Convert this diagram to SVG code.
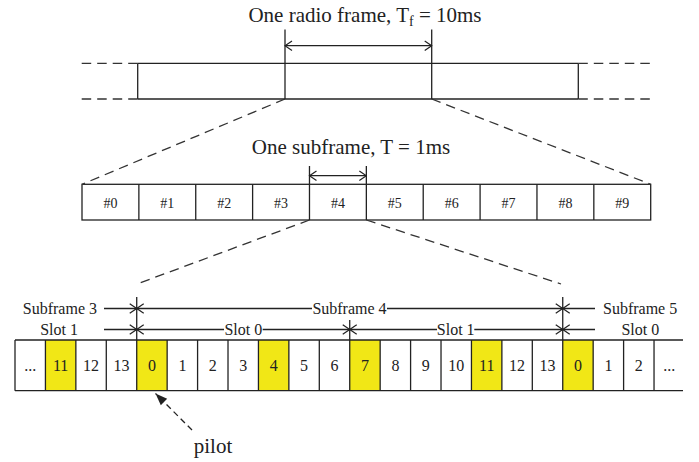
<svg xmlns="http://www.w3.org/2000/svg" width="699" height="462" viewBox="0 0 699 462">
  <defs>
    <style>
      .ln { stroke: #222; stroke-width: 1.3; fill: none; }
      .dash { stroke: #333; stroke-width: 1.3; fill: none; stroke-dasharray: 9.5 6; }
      .cell { stroke: #222; stroke-width: 1.3; fill: #fff; }
      .pilot { fill: #f1e716; stroke: none; }
      text { font-family: "Liberation Serif", "Times New Roman", serif; fill: #222; }
      .title { font-size: 21px; text-anchor: middle; }
      .sub { font-size: 14px; text-anchor: middle; }
      .num { font-size: 16px; text-anchor: middle; }
      .lbl { font-size: 16px; }
    </style>
    <marker id="open" viewBox="-8 -6 9 12" refX="0" refY="0" markerWidth="9" markerHeight="12" markerUnits="userSpaceOnUse" orient="auto-start-reverse">
      <path d="M-7,-4.8 L0,0 L-7,4.8" fill="none" stroke="#222" stroke-width="1.2"/>
    </marker>
    <marker id="solid" viewBox="-13 -6 14 12" refX="0" refY="0" markerWidth="14" markerHeight="12" markerUnits="userSpaceOnUse" orient="auto">
      <path d="M-12,-4.5 L0,0 L-12,4.5 Z" fill="#222"/>
    </marker>
  </defs>

  <!-- radio frame row -->
  <g id="radio-frame">
    <text class="title" x="365" y="22">One radio frame, T<tspan font-size="14" dy="4">f</tspan><tspan dy="-4"> = 10ms</tspan></text>
    <line class="ln" x1="137.7" y1="63.3" x2="578.3" y2="63.3"/>
    <line class="ln" x1="137.7" y1="99" x2="578.3" y2="99"/>
    <line class="ln" x1="137.7" y1="63.3" x2="137.7" y2="99"/>
    <line class="ln" x1="578.3" y1="63.3" x2="578.3" y2="99"/>
    <line class="ln" x1="285" y1="29.5" x2="285" y2="99"/>
    <line class="ln" x1="431.7" y1="29.5" x2="431.7" y2="99"/>
    <line class="dash" x1="137.7" y1="63.3" x2="80" y2="63.3"/>
    <line class="dash" x1="137.7" y1="99" x2="80" y2="99"/>
    <line class="dash" x1="578.3" y1="63.3" x2="651" y2="63.3"/>
    <line class="dash" x1="578.3" y1="99" x2="651" y2="99"/>
  </g>

  <!-- subframe row -->
  <g id="subframes">
    <text class="title" x="351" y="154">One subframe, T = 1ms</text>
    <rect class="cell" x="82" y="184.3" width="568.7" height="35.7"/>
    <g class="ln">
      <line x1="138.87" y1="184.3" x2="138.87" y2="220"/>
      <line x1="195.74" y1="184.3" x2="195.74" y2="220"/>
      <line x1="252.61" y1="184.3" x2="252.61" y2="220"/>
      <line x1="309.48" y1="166" x2="309.48" y2="220"/>
      <line x1="366.35" y1="166" x2="366.35" y2="220"/>
      <line x1="423.22" y1="184.3" x2="423.22" y2="220"/>
      <line x1="480.09" y1="184.3" x2="480.09" y2="220"/>
      <line x1="536.96" y1="184.3" x2="536.96" y2="220"/>
      <line x1="593.83" y1="184.3" x2="593.83" y2="220"/>
    </g>
    <text class="sub" x="110.4" y="207.5">#0</text>
    <text class="sub" x="167.3" y="207.5">#1</text>
    <text class="sub" x="224.2" y="207.5">#2</text>
    <text class="sub" x="281" y="207.5">#3</text>
    <text class="sub" x="337.9" y="207.5">#4</text>
    <text class="sub" x="394.8" y="207.5">#5</text>
    <text class="sub" x="451.7" y="207.5">#6</text>
    <text class="sub" x="508.5" y="207.5">#7</text>
    <text class="sub" x="565.4" y="207.5">#8</text>
    <text class="sub" x="622.3" y="207.5">#9</text>
  </g>

  <!-- slot / OFDM symbol row -->
  <g id="symbols">
    <rect class="pilot" x="45.43" y="340" width="30.43" height="50.7"/>
    <rect class="pilot" x="136.72" y="340" width="30.43" height="50.7"/>
    <rect class="pilot" x="258.44" y="340" width="30.43" height="50.7"/>
    <rect class="pilot" x="349.73" y="340" width="30.43" height="50.7"/>
    <rect class="pilot" x="471.45" y="340" width="30.43" height="50.7"/>
    <rect class="pilot" x="562.74" y="340" width="30.43" height="50.7"/>
    <g class="ln">
      <line x1="15" y1="340" x2="683" y2="340"/>
      <line x1="15" y1="390.7" x2="683" y2="390.7"/>
      <line x1="15" y1="340" x2="15" y2="390.7"/>
      <line x1="45.43" y1="340" x2="45.43" y2="390.7"/>
      <line x1="75.86" y1="340" x2="75.86" y2="390.7"/>
      <line x1="106.29" y1="340" x2="106.29" y2="390.7"/>
      <line x1="136.72" y1="297" x2="136.72" y2="390.7"/>
      <line x1="167.15" y1="340" x2="167.15" y2="390.7"/>
      <line x1="197.58" y1="340" x2="197.58" y2="390.7"/>
      <line x1="228.01" y1="340" x2="228.01" y2="390.7"/>
      <line x1="258.44" y1="340" x2="258.44" y2="390.7"/>
      <line x1="288.87" y1="340" x2="288.87" y2="390.7"/>
      <line x1="319.3" y1="340" x2="319.3" y2="390.7"/>
      <line x1="349.73" y1="320" x2="349.73" y2="390.7"/>
      <line x1="380.16" y1="340" x2="380.16" y2="390.7"/>
      <line x1="410.59" y1="340" x2="410.59" y2="390.7"/>
      <line x1="441.02" y1="340" x2="441.02" y2="390.7"/>
      <line x1="471.45" y1="340" x2="471.45" y2="390.7"/>
      <line x1="501.88" y1="340" x2="501.88" y2="390.7"/>
      <line x1="532.31" y1="340" x2="532.31" y2="390.7"/>
      <line x1="562.74" y1="297" x2="562.74" y2="390.7"/>
      <line x1="593.17" y1="340" x2="593.17" y2="390.7"/>
      <line x1="623.6" y1="340" x2="623.6" y2="390.7"/>
      <line x1="654.03" y1="340" x2="654.03" y2="390.7"/>
    </g>
    <text class="num" x="30.2" y="371">...</text>
    <text class="num" x="60.6" y="371">11</text>
    <text class="num" x="91.1" y="371">12</text>
    <text class="num" x="121.5" y="371">13</text>
    <text class="num" x="151.9" y="371">0</text>
    <text class="num" x="182.4" y="371">1</text>
    <text class="num" x="212.8" y="371">2</text>
    <text class="num" x="243.2" y="371">3</text>
    <text class="num" x="273.7" y="371">4</text>
    <text class="num" x="304.1" y="371">5</text>
    <text class="num" x="334.5" y="371">6</text>
    <text class="num" x="364.9" y="371">7</text>
    <text class="num" x="395.4" y="371">8</text>
    <text class="num" x="425.8" y="371">9</text>
    <text class="num" x="456.2" y="371">10</text>
    <text class="num" x="486.7" y="371">11</text>
    <text class="num" x="517.1" y="371">12</text>
    <text class="num" x="547.5" y="371">13</text>
    <text class="num" x="578" y="371">0</text>
    <text class="num" x="608.4" y="371">1</text>
    <text class="num" x="638.8" y="371">2</text>
    <text class="num" x="669.2" y="371">...</text>
  </g>

  <!-- subframe and slot labels -->
  <g id="boundary-labels">
    <text class="lbl" x="97" y="314" text-anchor="end">Subframe 3</text>
    <text class="lbl" x="349.5" y="314" text-anchor="middle">Subframe 4</text>
    <text class="lbl" x="603" y="314">Subframe 5</text>
    <text class="lbl" x="78" y="335" text-anchor="end">Slot 1</text>
    <text class="lbl" x="243.3" y="335" text-anchor="middle">Slot 0</text>
    <text class="lbl" x="455.7" y="335" text-anchor="middle">Slot 1</text>
    <text class="lbl" x="640.3" y="335" text-anchor="middle">Slot 0</text>
  </g>

  <g id="pilot-label">
    <text x="213" y="453" font-size="21" text-anchor="middle">pilot</text>
  </g>

  <!-- connectors -->
  <g id="connectors">
    <line class="ln" x1="285" y1="45.7" x2="431.7" y2="45.7" marker-start="url(#open)" marker-end="url(#open)"/>
    <line class="ln" x1="309.48" y1="175.7" x2="366.35" y2="175.7" marker-start="url(#open)" marker-end="url(#open)"/>
    <line class="dash" x1="285" y1="99" x2="82" y2="184.3"/>
    <line class="dash" x1="431.7" y1="99" x2="650.7" y2="184.3"/>
    <line class="dash" x1="309.48" y1="220" x2="137" y2="284"/>
    <line class="dash" x1="366.35" y1="220" x2="561" y2="284"/>

    <line class="ln" x1="104" y1="308.5" x2="136.72" y2="308.5" marker-end="url(#open)"/>
    <line class="ln" x1="136.72" y1="308.5" x2="312" y2="308.5" marker-start="url(#open)"/>
    <line class="ln" x1="387" y1="308.5" x2="562.74" y2="308.5" marker-end="url(#open)"/>
    <line class="ln" x1="562.74" y1="308.5" x2="595" y2="308.5" marker-start="url(#open)"/>

    <line class="ln" x1="104" y1="329.5" x2="136.72" y2="329.5" marker-end="url(#open)"/>
    <line class="ln" x1="136.72" y1="329.5" x2="224" y2="329.5" marker-start="url(#open)"/>
    <line class="ln" x1="262.7" y1="329.5" x2="349.73" y2="329.5" marker-end="url(#open)"/>
    <line class="ln" x1="349.73" y1="329.5" x2="437" y2="329.5" marker-start="url(#open)"/>
    <line class="ln" x1="474.3" y1="329.5" x2="562.74" y2="329.5" marker-end="url(#open)"/>
    <line class="ln" x1="562.74" y1="329.5" x2="595" y2="329.5" marker-start="url(#open)"/>

    <line x1="192" y1="430" x2="155.5" y2="393.5" stroke="#222" stroke-width="1.3" stroke-dasharray="6 4" marker-end="url(#solid)"/>
  </g>
</svg>
